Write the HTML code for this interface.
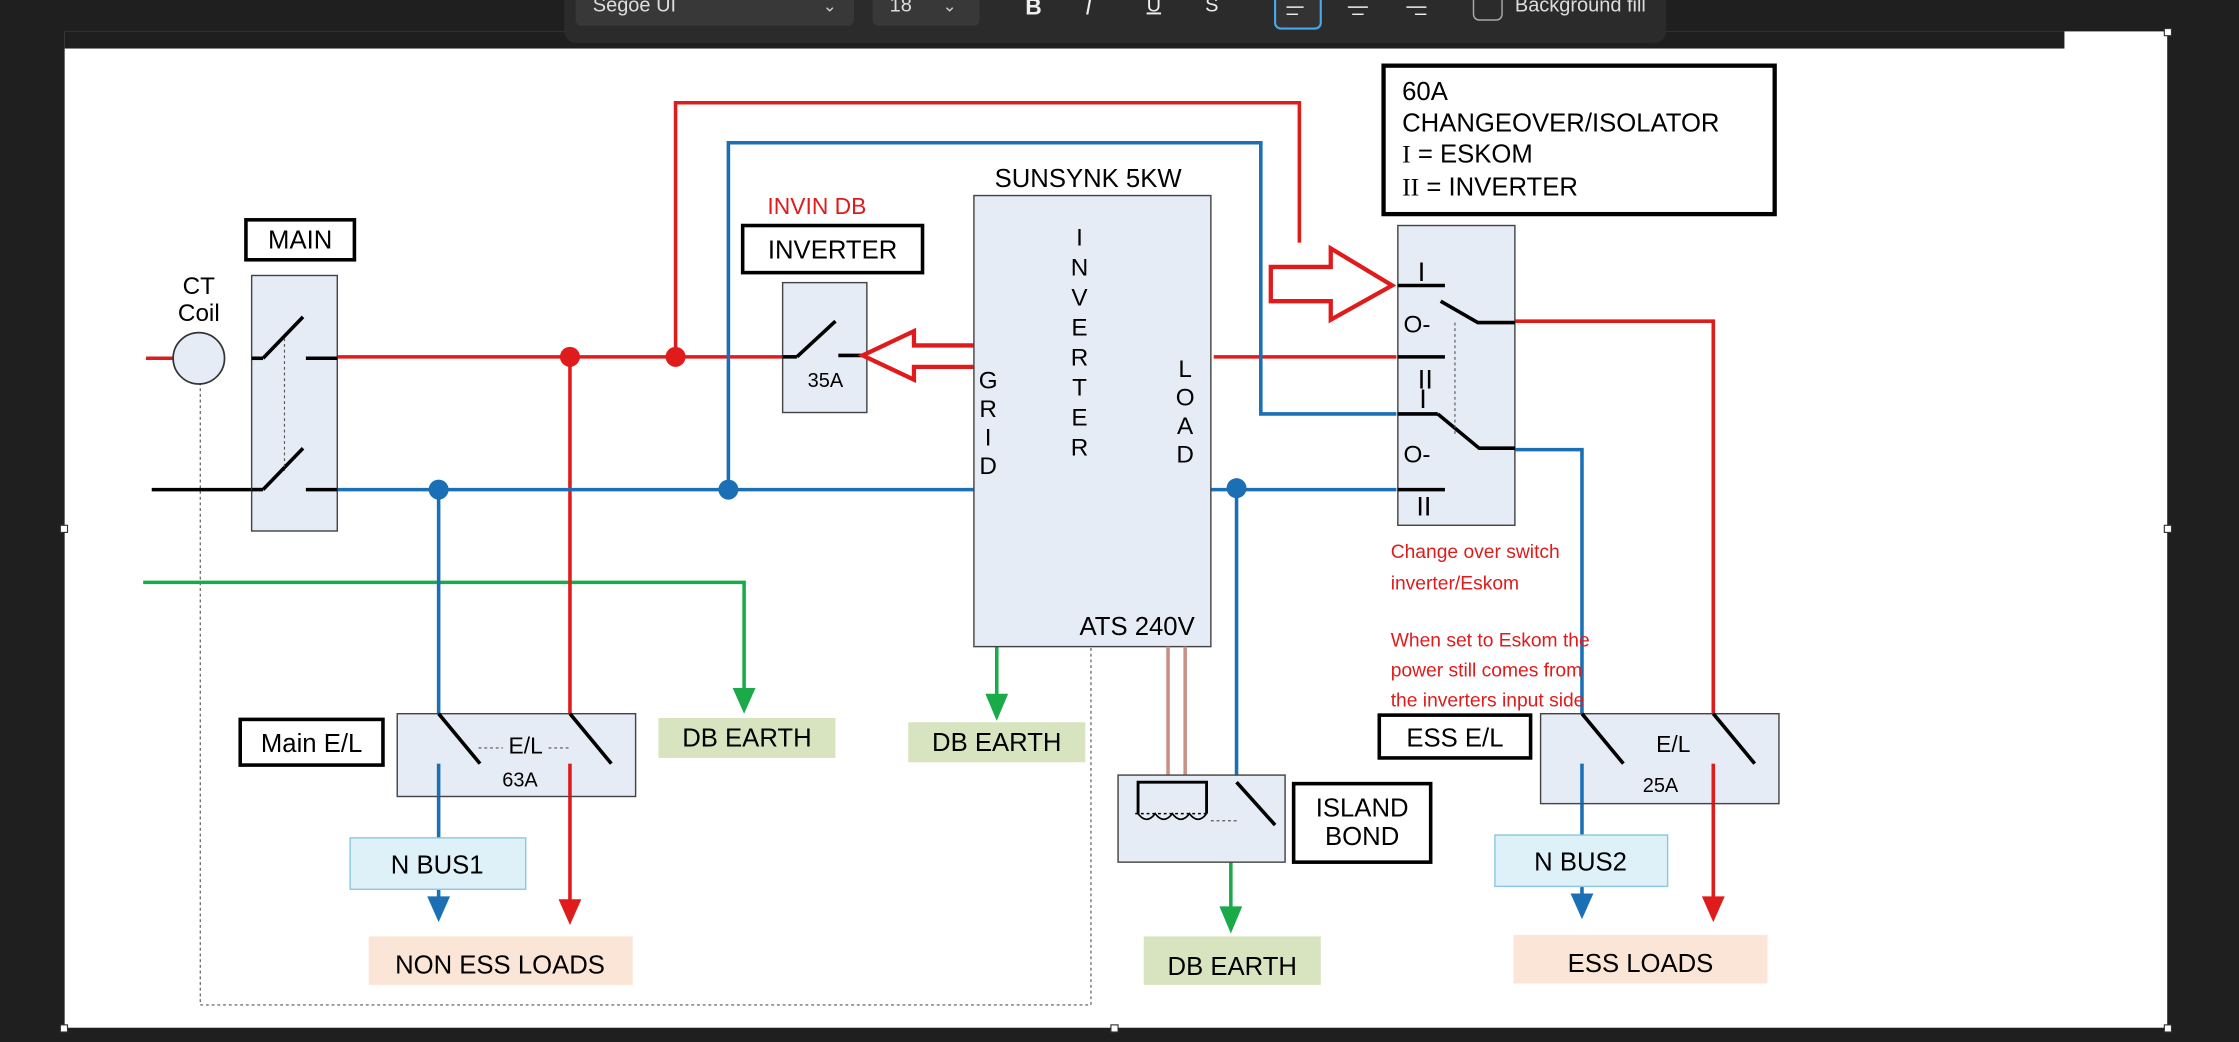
<!DOCTYPE html>
<html><head><meta charset="utf-8"><style>
html,body{margin:0;padding:0;background:#1f1f1f;}
svg{display:block;}
text{font-family:"Liberation Sans",Arial,sans-serif;}
</style></head><body>
<svg width="2239" height="1042" viewBox="0 0 1568 730" xmlns="http://www.w3.org/2000/svg">
<rect x="0" y="0" width="1568" height="730" fill="#1f1f1f"/>
<rect x="45" y="22" width="1473" height="698" fill="#ffffff"/>
<rect x="45" y="22" width="1401" height="12" fill="#1f1f1f"/>
<!-- toolbar -->
<rect x="395" y="-10" width="772" height="40" rx="8" fill="#2b2b2b"/>
<rect x="403" y="-10" width="195" height="28" rx="4" fill="#383838"/>
<text x="415" y="8" fill="#ddd" font-size="14">Segoe UI</text>
<text x="576" y="8" fill="#ccc" font-size="12">⌄</text>
<rect x="611" y="-10" width="75" height="28" rx="4" fill="#383838"/>
<text x="623" y="8" fill="#ddd" font-size="14">18</text>
<text x="660" y="8" fill="#ccc" font-size="12">⌄</text>
<text x="718" y="10" fill="#eee" font-size="16" font-weight="bold">B</text>
<text x="760" y="10" fill="#eee" font-size="16" font-style="italic">I</text>
<text x="803" y="8" fill="#eee" font-size="14" text-decoration="underline">U</text>
<text x="844" y="8" fill="#eee" font-size="14">S</text>
<rect x="893" y="-6" width="32" height="26" rx="4" fill="#333" stroke="#4aa8e8" stroke-width="1.5"/>
<line x1="901" y1="5" x2="913" y2="5" stroke="#eee"/><line x1="901" y1="10" x2="909" y2="10" stroke="#eee"/>
<line x1="944" y1="5" x2="958" y2="5" stroke="#eee"/><line x1="947" y1="10" x2="955" y2="10" stroke="#eee"/>
<line x1="985" y1="5" x2="999" y2="5" stroke="#eee"/><line x1="991" y1="10" x2="999" y2="10" stroke="#eee"/>
<rect x="1032" y="-6" width="20" height="20" rx="4" fill="none" stroke="#aaa"/>
<text x="1061" y="8" fill="#ddd" font-size="14">Background fill</text>
<!-- selection handles -->
<g fill="#fff" stroke="#333" stroke-width="0.8">
<rect x="42" y="368" width="5" height="5"/><rect x="1516" y="368" width="5" height="5"/>
<rect x="42" y="718" width="5" height="5"/><rect x="778" y="718" width="5" height="5"/><rect x="1516" y="718" width="5" height="5"/>
<rect x="1516" y="20" width="5" height="5"/>
</g>

<!-- dotted CT line -->
<polyline points="140,268 140,704 764,704 764,452" fill="none" stroke="#555" stroke-width="0.8" stroke-dasharray="2,2"/>

<!-- green earth -->
<polyline points="100,408 521,408 521,490" fill="none" stroke="#1aaa4a" stroke-width="2.5"/>
<polygon points="513,482 529,482 521,500" fill="#1aaa4a"/>
<line x1="698" y1="452" x2="698" y2="492" stroke="#1aaa4a" stroke-width="2.5"/>
<polygon points="690,486 706,486 698,505" fill="#1aaa4a"/>
<line x1="862" y1="604" x2="862" y2="640" stroke="#1aaa4a" stroke-width="2.5"/>
<polygon points="854,635 870,635 862,654" fill="#1aaa4a"/>

<!-- red wires -->
<g fill="none" stroke="#e01b1b" stroke-width="2.5">
<line x1="102" y1="251" x2="122" y2="251"/>
<line x1="236" y1="250" x2="548" y2="250"/>
<polyline points="473,250 473,72 910,72 910,170"/>
<line x1="399" y1="250" x2="399" y2="500"/>
<line x1="399" y1="530" x2="399" y2="632"/>
<line x1="850" y1="250" x2="978" y2="250"/>
<polyline points="1060,225 1200,225 1200,500"/>
<line x1="1200" y1="530" x2="1200" y2="632"/>
</g>
<polygon points="391,630 407,630 399,648" fill="#e01b1b"/>
<polygon points="1192,628 1208,628 1200,646" fill="#e01b1b"/>
<circle cx="399" cy="250" r="7" fill="#e01b1b"/>
<circle cx="473" cy="250" r="7" fill="#e01b1b"/>

<!-- blue wires -->
<g fill="none" stroke="#1b6fb5" stroke-width="2.5">
<line x1="236" y1="343" x2="682" y2="343"/>
<polyline points="510,343 510,100 883,100 883,290 978,290"/>
<line x1="307" y1="343" x2="307" y2="500"/>
<line x1="307" y1="530" x2="307" y2="632"/>
<line x1="848" y1="343" x2="978" y2="343"/>
<polyline points="866,343 866,548"/>
<polyline points="1060,315 1108,315 1108,500"/>
<line x1="1108" y1="530" x2="1108" y2="632"/>
</g>
<polygon points="299,628 315,628 307,646" fill="#1b6fb5"/>
<polygon points="1100,626 1116,626 1108,644" fill="#1b6fb5"/>
<circle cx="307" cy="343" r="7" fill="#1b6fb5"/>
<circle cx="510" cy="343" r="7" fill="#1b6fb5"/>
<circle cx="866" cy="342" r="7" fill="#1b6fb5"/>
<line x1="106" y1="343" x2="176" y2="343" stroke="#000" stroke-width="2.5"/>

<!-- CT coil -->
<circle cx="139" cy="251" r="18" fill="#e6ecf5" stroke="#333" stroke-width="1.2"/>
<text x="139" y="206" font-size="17" text-anchor="middle">CT</text>
<text x="139" y="225" font-size="17" text-anchor="middle">Coil</text>

<!-- MAIN breaker -->
<rect x="176" y="193" width="60" height="179" fill="#e6ecf5" stroke="#444"/>
<rect x="172" y="154" width="76" height="28" fill="#fff" stroke="#000" stroke-width="2.5"/>
<text x="210" y="174" font-size="18" text-anchor="middle">MAIN</text>
<g stroke="#000" stroke-width="2.5"><line x1="176" y1="251" x2="184" y2="251"/><line x1="184" y1="251" x2="212" y2="222"/><line x1="214" y1="251" x2="236" y2="251"/>
<line x1="176" y1="343" x2="184" y2="343"/><line x1="184" y1="343" x2="212" y2="314"/><line x1="214" y1="343" x2="236" y2="343"/></g>
<line x1="199" y1="237" x2="199" y2="330" stroke="#555" stroke-width="0.8" stroke-dasharray="2,2"/>

<!-- Inverter breaker -->
<text x="572" y="150" font-size="16" fill="#e01b1b" text-anchor="middle">INVIN DB</text>
<rect x="520" y="158" width="126" height="33" fill="#fff" stroke="#000" stroke-width="2.5"/>
<text x="583" y="181" font-size="18" text-anchor="middle">INVERTER</text>
<rect x="548" y="198" width="59" height="91" fill="#e6ecf5" stroke="#444"/>
<g stroke="#000" stroke-width="2.5"><line x1="548" y1="250" x2="558" y2="250"/><line x1="558" y1="250" x2="585" y2="225"/><line x1="587" y1="249" x2="607" y2="249"/></g>
<text x="578" y="271" font-size="14" text-anchor="middle">35A</text>
<polygon points="604,249 640,232 640,242 707,242 707,257 640,257 640,266" fill="#fff" stroke="#e01b1b" stroke-width="3"/>

<!-- Sunsynk -->
<text x="762" y="131" font-size="18" text-anchor="middle">SUNSYNK 5KW</text>
<rect x="682" y="137" width="166" height="316" fill="#e6ecf5" stroke="#444"/>
<g font-size="17" text-anchor="middle">
<text x="756" y="172">I</text><text x="756" y="193">N</text><text x="756" y="214">V</text><text x="756" y="235">E</text><text x="756" y="256">R</text><text x="756" y="277">T</text><text x="756" y="298">E</text><text x="756" y="319">R</text>
<text x="692" y="272">G</text><text x="692" y="292">R</text><text x="692" y="312">I</text><text x="692" y="332">D</text>
<text x="830" y="264">L</text><text x="830" y="284">O</text><text x="830" y="304">A</text><text x="830" y="324">D</text>
</g>
<text x="756" y="445" font-size="18">ATS 240V</text>
<line x1="682" y1="343" x2="682" y2="343" stroke="#000"/>

<!-- Island bond -->
<g stroke="#c99088" stroke-width="2.5"><line x1="818" y1="453" x2="818" y2="545"/><line x1="830" y1="453" x2="830" y2="545"/></g>
<rect x="783" y="543" width="117" height="61" fill="#e6ecf5" stroke="#444"/>
<polyline points="797,570 797,548 845,548 845,570" fill="none" stroke="#000" stroke-width="2"/>
<path d="M797,570 q6,8 12,0 q6,8 12,0 q6,8 12,0 q6,8 12,0" fill="none" stroke="#000" stroke-width="1.2"/>
<line x1="795" y1="570" x2="847" y2="570" stroke="#000" stroke-width="1" stroke-dasharray="2,2"/>
<line x1="866" y1="548" x2="893" y2="578" stroke="#000" stroke-width="2.5"/>
<line x1="848" y1="575" x2="866" y2="575" stroke="#555" stroke-width="0.8" stroke-dasharray="2,2"/>
<rect x="906" y="549" width="96" height="55" fill="#fff" stroke="#000" stroke-width="2.5"/>
<text x="954" y="572" font-size="18" text-anchor="middle">ISLAND</text>
<text x="954" y="592" font-size="18" text-anchor="middle">BOND</text>

<!-- earth labels -->
<rect x="461" y="503" width="124" height="28" fill="#d7e4bf"/>
<text x="523" y="523" font-size="18" text-anchor="middle">DB EARTH</text>
<rect x="636" y="506" width="124" height="28" fill="#d7e4bf"/>
<text x="698" y="526" font-size="18" text-anchor="middle">DB EARTH</text>
<rect x="801" y="656" width="124" height="34" fill="#d7e4bf"/>
<text x="863" y="683" font-size="18" text-anchor="middle">DB EARTH</text>

<!-- Main E/L -->
<rect x="168" y="504" width="100" height="32" fill="#fff" stroke="#000" stroke-width="2.5"/>
<text x="218" y="527" font-size="18" text-anchor="middle">Main E/L</text>
<rect x="278" y="500" width="167" height="58" fill="#e6ecf5" stroke="#444"/>
<g stroke="#000" stroke-width="2.5"><line x1="307" y1="500" x2="336" y2="535"/><line x1="399" y1="500" x2="428" y2="535"/></g>
<line x1="307" y1="535" x2="307" y2="558" stroke="#1b6fb5" stroke-width="2.5"/>
<line x1="399" y1="535" x2="399" y2="558" stroke="#e01b1b" stroke-width="2.5"/>
<text x="368" y="528" font-size="16" text-anchor="middle">E/L</text>
<line x1="335" y1="524" x2="352" y2="524" stroke="#555" stroke-width="0.8" stroke-dasharray="2,2"/>
<line x1="384" y1="524" x2="398" y2="524" stroke="#555" stroke-width="0.8" stroke-dasharray="2,2"/>
<text x="364" y="551" font-size="14" text-anchor="middle">63A</text>
<rect x="245" y="587" width="123" height="36" fill="#def0f8" stroke="#8cc8e0"/>
<text x="306" y="612" font-size="18" text-anchor="middle">N BUS1</text>
<rect x="258" y="656" width="185" height="34" fill="#fbe5d6"/>
<text x="350" y="682" font-size="18" text-anchor="middle">NON ESS LOADS</text>

<!-- Changeover -->
<rect x="969" y="46" width="274" height="104" fill="#fff" stroke="#000" stroke-width="3"/>
<text x="982" y="70" font-size="18">60A</text>
<text x="982" y="92" font-size="18">CHANGEOVER/ISOLATOR</text>
<text x="982" y="114" font-size="18"><tspan font-family="Liberation Serif">I</tspan> = ESKOM</text>
<text x="982" y="137" font-size="18"><tspan font-family="Liberation Serif">II</tspan> = INVERTER</text>
<rect x="979" y="158" width="82" height="210" fill="#e6ecf5" stroke="#444"/>
<g stroke="#000" stroke-width="2.5" fill="none">
<line x1="979" y1="200" x2="1012" y2="200"/>
<polyline points="1009,211 1035,226 1061,226"/>
<line x1="979" y1="250" x2="1012" y2="250"/>
<line x1="979" y1="290" x2="1007" y2="290"/>
<polyline points="1007,290 1036,314 1061,314"/>
<line x1="979" y1="343" x2="1012" y2="343"/>
</g>
<line x1="1019" y1="226" x2="1019" y2="306" stroke="#555" stroke-width="0.8" stroke-dasharray="2,2"/>
<g font-family="Liberation Serif" font-size="19">
<text x="993" y="197">I</text><text x="993" y="272">II</text><text x="994" y="286">I</text><text x="992" y="361">II</text>
</g>
<text x="983" y="233" font-size="17">O-</text>
<text x="983" y="324" font-size="17">O-</text>
<polygon points="890,187 932,187 932,174 975,200 932,224 932,211 890,211" fill="#fff" stroke="#e01b1b" stroke-width="3"/>

<g font-size="13.5" fill="#e01b1b">
<text x="974" y="391">Change over switch</text>
<text x="974" y="413">inverter/Eskom</text>
<text x="974" y="453">When set to Eskom the</text>
<text x="974" y="474">power still comes from</text>
<text x="974" y="495">the inverters input side</text>
</g>

<!-- ESS E/L -->
<rect x="966" y="501" width="106" height="30" fill="#fff" stroke="#000" stroke-width="2.5"/>
<text x="1019" y="523" font-size="18" text-anchor="middle">ESS E/L</text>
<rect x="1079" y="500" width="167" height="63" fill="#e6ecf5" stroke="#444"/>
<g stroke="#000" stroke-width="2.5"><line x1="1108" y1="500" x2="1137" y2="535"/><line x1="1200" y1="500" x2="1229" y2="535"/></g>
<line x1="1108" y1="535" x2="1108" y2="563" stroke="#1b6fb5" stroke-width="2.5"/>
<line x1="1200" y1="535" x2="1200" y2="563" stroke="#e01b1b" stroke-width="2.5"/>
<text x="1172" y="527" font-size="16" text-anchor="middle">E/L</text>
<text x="1163" y="555" font-size="14" text-anchor="middle">25A</text>
<rect x="1047" y="585" width="121" height="36" fill="#def0f8" stroke="#8cc8e0"/>
<text x="1107" y="610" font-size="18" text-anchor="middle">N BUS2</text>
<rect x="1060" y="655" width="178" height="34" fill="#fbe5d6"/>
<text x="1149" y="681" font-size="18" text-anchor="middle">ESS LOADS</text>
</svg>
</body></html>
